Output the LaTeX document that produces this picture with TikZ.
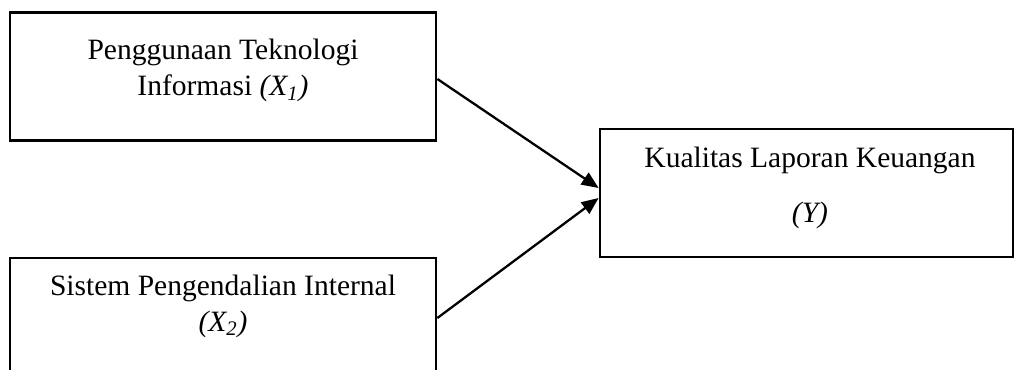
\documentclass[tikz,border=0pt]{standalone}
\usepackage{fontspec}
\setmainfont{Liberation Serif}
\usetikzlibrary{arrows.meta, positioning}

\tikzset{
    varbox/.style={rectangle,draw=black,line width=1.6pt,minimum height=2.56cm},
    vartext/.style={font=\fontsize{16.8}{20.5}\selectfont,align=center},
    panah/.style={line width=1.3pt,-{Triangle[length=0.34cm,width=0.28cm]}}
}

\begin{document}
\begin{tikzpicture}[x=0.02cm,y=-0.02cm]
    \useasboundingbox (0,0) rectangle (1014,369);

    % Variabel X1
    \node[varbox,minimum width=8.52cm] (pti) at (223,76.5) {};
    \node[vartext] (ptitext) at (223,70.5) {Penggunaan Teknologi\\Informasi \textit{(X\textsubscript{1})}};

    % Variabel X2
    \node[varbox,minimum width=8.52cm] (spi) at (223,322) {};
    \node[vartext] (spitext) at (223,306) {Sistem Pengendalian Internal\\\textit{(X\textsubscript{2})}};

    % Variabel Y
    \node[varbox,minimum width=8.26cm] (klk) at (806.5,193) {};
    \node[vartext] (klktext) at (810,188) {Kualitas Laporan Keuangan\\[11pt]\textit{(Y)}};

    % Panah
    \draw[panah] ([yshift=-0.05cm]pti.east) -- ([yshift=0.1cm]klk.west);
    \draw[panah] ([yshift=0.08cm]spi.east) -- ([yshift=-0.1cm]klk.west);
\end{tikzpicture}
\end{document}
